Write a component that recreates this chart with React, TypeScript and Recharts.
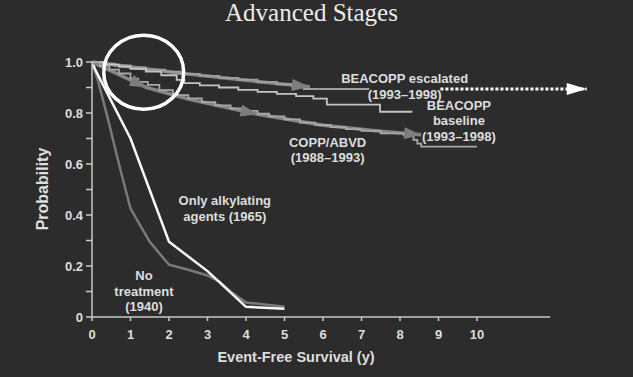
import React from 'react';
import { LineChart, Line, XAxis, YAxis, ReferenceLine, ReferenceDot } from 'recharts';

// ---- data (x = years, y = probability) ----
const yearTicks = [0, 1, 2, 3, 4, 5, 6, 7, 8, 9, 10];
const probTicks = [0, 0.1, 0.2, 0.3, 0.4, 0.5, 0.6, 0.7, 0.8, 0.9, 1.0];

const noTreatment = [
  { x: 0, y: 1.0 }, { x: 0.15, y: 0.93 }, { x: 0.4, y: 0.785 }, { x: 0.7, y: 0.6 },
  { x: 1.0, y: 0.425 }, { x: 1.5, y: 0.295 }, { x: 2.0, y: 0.205 }, { x: 2.5, y: 0.185 },
  { x: 3.0, y: 0.163 }, { x: 3.3, y: 0.14 }, { x: 3.6, y: 0.1 }, { x: 4.0, y: 0.057 }, { x: 5.0, y: 0.04 },
];

const alkylating = [
  { x: 0, y: 1.0 }, { x: 0.1, y: 0.965 }, { x: 1.0, y: 0.7 }, { x: 2.0, y: 0.295 },
  { x: 3.0, y: 0.18 }, { x: 4.0, y: 0.04 }, { x: 5.0, y: 0.032 },
];

const escalated = [
  { x: 0, y: 1.0 }, { x: 0.3, y: 0.993 }, { x: 0.6, y: 0.986 }, { x: 1.0, y: 0.978 },
  { x: 1.4, y: 0.97 }, { x: 1.9, y: 0.962 }, { x: 2.3, y: 0.953 }, { x: 2.8, y: 0.945 },
  { x: 3.3, y: 0.937 }, { x: 3.8, y: 0.93 }, { x: 4.3, y: 0.922 }, { x: 4.8, y: 0.913 },
  { x: 5.2, y: 0.905 }, { x: 5.5, y: 0.894 }, { x: 7.2, y: 0.894 },
];

const baseline = [
  { x: 0, y: 1.0 }, { x: 0.3, y: 0.99 }, { x: 0.7, y: 0.982 }, { x: 1.0, y: 0.973 },
  { x: 1.4, y: 0.962 }, { x: 1.8, y: 0.948 }, { x: 2.2, y: 0.93 }, { x: 2.4, y: 0.917 },
  { x: 2.8, y: 0.908 }, { x: 3.3, y: 0.9 }, { x: 3.8, y: 0.891 }, { x: 4.3, y: 0.883 },
  { x: 4.8, y: 0.875 }, { x: 5.3, y: 0.866 }, { x: 5.75, y: 0.856 }, { x: 6.1, y: 0.833 },
  { x: 7.48, y: 0.805 }, { x: 8.32, y: 0.805 },
];

const coppAbvd = [
  { x: 0, y: 1.0 }, { x: 0.2, y: 0.985 }, { x: 0.45, y: 0.97 }, { x: 0.7, y: 0.955 },
  { x: 1.0, y: 0.935 }, { x: 1.2, y: 0.922 }, { x: 1.45, y: 0.91 }, { x: 1.75, y: 0.89 },
  { x: 2.1, y: 0.87 }, { x: 2.5, y: 0.857 }, { x: 2.85, y: 0.843 }, { x: 3.2, y: 0.83 },
  { x: 3.6, y: 0.818 }, { x: 3.9, y: 0.808 }, { x: 4.3, y: 0.797 }, { x: 4.6, y: 0.787 },
  { x: 5.0, y: 0.775 }, { x: 5.4, y: 0.762 }, { x: 5.8, y: 0.753 }, { x: 6.2, y: 0.745 },
  { x: 6.6, y: 0.737 }, { x: 7.0, y: 0.73 }, { x: 7.5, y: 0.72 }, { x: 8.1, y: 0.712 },
  { x: 8.35, y: 0.695 }, { x: 8.45, y: 0.68 }, { x: 8.55, y: 0.668 }, { x: 10.0, y: 0.668 },
];

// trend arrows drawn over the curves
const escalatedArrow = [
  { x: 0, y: 1.0 }, { x: 2.2, y: 0.958 }, { x: 4.0, y: 0.928 }, { x: 5.66, y: 0.903 },
];
const coppArrow = [
  { x: 0, y: 1.0 }, { x: 1.42, y: 0.9 }, { x: 2.5, y: 0.855 }, { x: 4.3, y: 0.795 },
  { x: 6.0, y: 0.752 }, { x: 7.5, y: 0.728 }, { x: 8.55, y: 0.715 },
];
const dashedArrow = [{ x: 9.05, y: 0.894 }, { x: 12.85, y: 0.894 }];

const axisLineSegment = [{ x: 0, y: 0 }, { x: 11.9, y: 0 }];

const annotations = [
  { x: 8.12, y: 0.936, lines: ['BEACOPP escalated', '(1993\u20131998)'] },
  { x: 9.53, y: 0.831, lines: ['BEACOPP', 'baseline', '(1993\u20131998)'] },
  { x: 6.12, y: 0.687, lines: ['COPP/ABVD', '(1988\u20131993)'] },
  { x: 3.45, y: 0.458, lines: ['Only alkylating', 'agents (1965)'] },
  { x: 1.35, y: 0.164, lines: ['No', 'treatment', '(1940)'] },
];

const FONT = '"Liberation Sans", Arial, sans-serif';
const TEXT = '#dedede';

function arrowDot(heads: number[], len: number, half: number, fill: string) {
  return (p: any) => {
    const { cx, cy, index, points } = p;
    const key = `ah-${index}`;
    if (!heads.includes(index) || !points || index === 0) return <g key={key} />;
    const pr = points[index - 1];
    const dx = cx - pr.x;
    const dy = cy - pr.y;
    const d = Math.hypot(dx, dy) || 1;
    const ux = dx / d;
    const uy = dy / d;
    const bx = cx - ux * len;
    const by = cy - uy * len;
    const pts = `${cx},${cy} ${bx - uy * half},${by + ux * half} ${bx + uy * half},${by - ux * half}`;
    return <polygon key={key} points={pts} fill={fill} />;
  };
}

const annotationShape = (lines: string[]) => (p: any) => (
  <text
    x={p.cx}
    y={p.cy}
    textAnchor="middle"
    dominantBaseline="central"
    fill={TEXT}
    fontFamily={FONT}
    fontWeight="bold"
    fontSize={13}
  >
    {lines.map((l, i) => (
      <tspan key={i} x={p.cx} dy={i === 0 ? 0 : 15.4}>
        {l}
      </tspan>
    ))}
  </text>
);

const ellipseShape = (p: any) => (
  <ellipse cx={p.cx} cy={p.cy} rx={40} ry={37} fill="none" stroke="#ffffff" strokeWidth={3.5} />
);

const yFmt = (v: number) => {
  const k = Math.round(v * 10);
  if (k === 0) return '0';
  return k % 2 === 0 ? v.toFixed(1) : '';
};

export default function App() {
  return (
    <div
      style={{
        position: 'absolute',
        left: 0,
        top: 0,
        width: 633,
        height: 377,
        background: '#2c2c2c',
        overflow: 'hidden',
      }}
    >
      <svg width={633} height={34} style={{ position: 'absolute', left: 0, top: 0 }}>
        <text
          x={311.5}
          y={21}
          textAnchor="middle"
          fill="#ececec"
          fontFamily='"Liberation Serif", "Times New Roman", serif'
          fontSize={25}
        >
          Advanced Stages
        </text>
      </svg>
      <LineChart width={633} height={377} margin={{ top: 62, right: 40.5, bottom: 30, left: 20 }}>
        <XAxis
          type="number"
          dataKey="x"
          domain={[0, 13]}
          ticks={yearTicks}
          allowDataOverflow
          axisLine={false}
          tickLine={{ stroke: '#c8c8c8', strokeWidth: 1.5 }}
          tickSize={4}
          tickMargin={9}
          height={30}
          tick={{ fill: TEXT, fontFamily: FONT, fontWeight: 'bold', fontSize: 13 }}
          label={{
            content: () => (
              <text
                x={296}
                y={362}
                textAnchor="middle"
                fill={TEXT}
                fontFamily={FONT}
                fontWeight="bold"
                fontSize={14.5}
              >
                Event-Free Survival (y)
              </text>
            ),
          }}
        />
        <YAxis
          type="number"
          domain={[0, 1]}
          ticks={probTicks}
          tickFormatter={yFmt}
          width={72}
          axisLine={{ stroke: '#c8c8c8', strokeWidth: 1.5 }}
          tickLine={{ stroke: '#c8c8c8', strokeWidth: 1.5 }}
          tickSize={6}
          tickMargin={3}
          tick={{ fill: TEXT, fontFamily: FONT, fontWeight: 'bold', fontSize: 13 }}
          label={{
            content: () => (
              <text
                x={42}
                y={189}
                transform="rotate(-90 42 189)"
                textAnchor="middle"
                dominantBaseline="central"
                fill={TEXT}
                fontFamily={FONT}
                fontWeight="bold"
                fontSize={16}
              >
                Probability
              </text>
            ),
          }}
        />
        <ReferenceLine
          segment={axisLineSegment}
          stroke="#c8c8c8"
          strokeWidth={1.5}
          ifOverflow="visible"
        />

        <Line
          data={noTreatment}
          dataKey="y"
          type="linear"
          stroke="#7a7a7a"
          strokeWidth={2.5}
          dot={false}
          activeDot={false}
          isAnimationActive={false}
        />
        <Line
          data={alkylating}
          dataKey="y"
          type="linear"
          stroke="#f8f8f8"
          strokeWidth={2.5}
          dot={false}
          activeDot={false}
          isAnimationActive={false}
        />
        <Line
          data={escalatedArrow}
          dataKey="y"
          type="linear"
          stroke="#858585"
          strokeWidth={3.5}
          dot={arrowDot([3], 18, 6, '#7e7e7e')}
          activeDot={false}
          isAnimationActive={false}
        />
        <Line
          data={coppArrow}
          dataKey="y"
          type="linear"
          stroke="#858585"
          strokeWidth={3.5}
          dot={arrowDot([1, 3, 6], 17, 6, '#7e7e7e')}
          activeDot={false}
          isAnimationActive={false}
        />
        <Line
          data={escalated}
          dataKey="y"
          type="stepAfter"
          stroke="#9e9e9e"
          strokeWidth={2}
          dot={false}
          activeDot={false}
          isAnimationActive={false}
        />
        <Line
          data={baseline}
          dataKey="y"
          type="stepAfter"
          stroke="#c4c4c4"
          strokeWidth={1.8}
          dot={false}
          activeDot={false}
          isAnimationActive={false}
        />
        <Line
          data={coppAbvd}
          dataKey="y"
          type="stepAfter"
          stroke="#a8a8a8"
          strokeWidth={1.8}
          dot={false}
          activeDot={false}
          isAnimationActive={false}
        />
        <Line
          data={dashedArrow}
          dataKey="y"
          type="linear"
          stroke="#ffffff"
          strokeWidth={3}
          strokeDasharray="3 2"
          dot={arrowDot([1], 20, 6, '#ffffff')}
          activeDot={false}
          isAnimationActive={false}
        />

        <ReferenceDot x={1.343} y={0.96} r={40} ifOverflow="visible" shape={ellipseShape} />
        {annotations.map((a, i) => (
          <ReferenceDot
            key={i}
            x={a.x}
            y={a.y}
            r={1}
            ifOverflow="visible"
            shape={annotationShape(a.lines)}
          />
        ))}
      </LineChart>
    </div>
  );
}
